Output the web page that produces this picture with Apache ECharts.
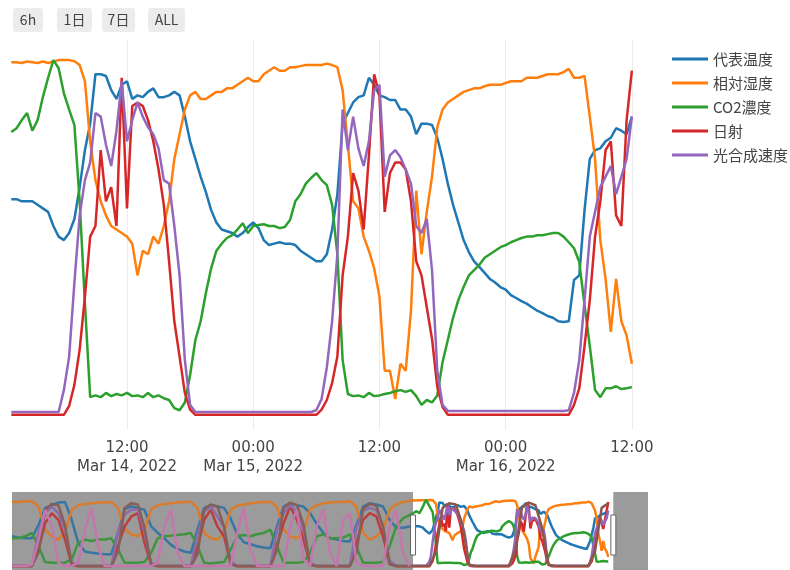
<!DOCTYPE html>
<html><head><meta charset="utf-8">
<script src="https://cdn.jsdelivr.net/npm/echarts@6/dist/echarts.min.js"></script>
<style>html,body{margin:0;padding:0;background:#fff}#c{width:790px;height:570px}</style>
</head><body><div id="c"></div>
<script>
// ---------- DATA ----------
const seriesNames = ['代表温度', '相対湿度', 'CO2濃度', '日射', '光合成速度'];
const buttonLabels = ['6h', '1日', '7日', 'ALL'];

// main (visible) data: 30-minute samples from 2022-03-14 01:00 to 2022-03-16 12:00
const mainStart = '2022-03-14 01:00';
const mainStepMin = 30;
const temp = [
  60.6,60.6,60,60,60,59,58,57,53,50,49,51,
  55,64,74.5,82,96,96,95.5,91.5,89,93,94,89,
  90,89.5,91,92,89.5,89.5,90,91,90,84,77,72,
  67,62.6,57.5,54,52,51.5,51,50,51,52.7,54,52.4,
  49,47.6,48,48.4,48,48,47.6,46,45,44,43,43,
  45,52,62,82,85,88,89.5,90,95,93,90,89.5,
  88.7,88.7,86,86,84,79,82,82,81.6,78,72,65,
  59,54,49,45.6,43,41.4,39.7,38,37,35.7,35,33.4,
  32.6,31.7,31,30,29,28.3,27.5,27,26,25.8,26,37.7,
  39,57.5,72,74.5,75,77,78,80.7,80,79,84
];
const humidity = [
  99.4,99.4,99.2,99.6,99.4,99.2,99.6,99.2,99.6,100,100,100,
  99.7,98.6,94,77,66,60,56,53,52,51,50,48,
  39,46,45,50,48,53,60,72,79,86,90,91,
  89,89,90,91,91,92,92,93,94,95,94,94,
  96,97,98,97,97,98,98,98.3,98.6,98.6,98.6,98.6,
  99,98.6,98,91.5,76,60,58,50,46,41,33,12,
  12,4,14,12,29,63,45,57,67,81,86,88,
  89,90,91,91.5,92,92,92.6,93,93,93,93.5,94,
  94,94,95,95,95,95.5,96,96,96,96.6,97.5,95,
  95,95.5,84,72,49,38,23,38,26,22,14
];
const co2 = [
  79.6,80.7,83,85,80,83,89.5,95,100,97.7,90.6,86,
  81.6,60,31,4.5,5,4.5,5.7,4.8,5.4,5,5.7,4.8,
  5,4.5,5.7,4.5,5,4.2,3.7,1.4,0.8,3,10.8,20.7,
  26,34,41,46,48,49.6,50.4,52,53.8,51,53,53.3,
  53.5,53,53,52.4,52.7,54.7,60,62,65,66.6,68,66,
  64.6,59,45,15,5.4,4.8,5,4.5,5.7,4.8,5,5.4,
  5.7,6.2,6.5,6,6.5,4.8,2.3,3.7,3,5,14.4,20.7,
  27,32,35.7,39,40.5,42,44,45,46,47,47.6,48.4,
  49,49.6,50,50,50.4,50.4,50.7,51,51,50,48.4,46.7,
  42.8,30.6,19,6.5,4.5,7,7,7.6,6.8,7,7.4
];
const solar = [
  -0.5,-0.5,-0.5,-0.5,-0.5,-0.5,-0.5,-0.5,-0.5,-0.5,-0.5,2,
  8,18,33,50,53,74.5,60,64,53,95,58,87,
  88,87,83,77,69,59,43,26,16,5.7,1,-0.5,
  -0.5,-0.5,-0.5,-0.5,-0.5,-0.5,-0.5,-0.5,-0.5,-0.5,-0.5,-0.5,
  -0.5,-0.5,-0.5,-0.5,-0.5,-0.5,-0.5,-0.5,-0.5,-0.5,-0.5,1,
  3.7,8.5,16,39,50,68,63,52,73,96,90,57,
  68,71,71,69,60,43,39,30,21,7.4,1.7,-0.5,
  -0.5,-0.5,-0.5,-0.5,-0.5,-0.5,-0.5,-0.5,-0.5,-0.5,-0.5,-0.5,
  -0.5,-0.5,-0.5,-0.5,-0.5,-0.5,-0.5,-0.5,-0.5,-0.5,-0.5,2.3,
  7,19,32,50,60,74.5,77,56,53,83,97
];
const photo = [
  0.3,0.3,0.3,0.3,0.3,0.3,0.3,0.3,0.3,0.3,6.5,16,
  37,56,66,71,85,84,76,70,80,94,77,83,
  88,84,81,79,75,66,65,53,39,15,2.3,0.3,
  0.3,0.3,0.3,0.3,0.3,0.3,0.3,0.3,0.3,0.3,0.3,0.3,
  0.3,0.3,0.3,0.3,0.3,0.3,0.3,0.3,0.3,0.3,0.8,4,
  13,26,45,86,74.5,84,75,70,77,91.5,93,67,
  73,74.5,72.5,69,65,53,51,55,40.5,12,2.3,0.6,
  0.6,0.6,0.6,0.6,0.6,0.6,0.6,0.6,0.6,0.6,0.6,0.6,
  0.6,0.6,0.6,0.6,0.6,0.6,0.6,0.6,0.6,0.6,0.8,5.7,
  15,32,50,57,64,67,70,62,67,72,84
];

// earlier data shown only in the range slider: 2-hour samples from 2022-03-09 00:00 to 2022-03-13 22:00
const earlyStart = '2022-03-09 00:00';
const earlyStepMin = 120;
const earlyTemp = [
  45,43,42,42,62,88,92,96,97,70,35,22,
  20,19,18,18,50,86,90,88,85,60,50,42,
  32,26,22,20,55,88,92,90,88,72,48,36,
  33,30,28,27,60,90,95,92,90,80,64,50,
  42,40,38,37,62,90,95,93,90,70,58,58
];
const earlyHumidity = [
  97,97,98,98,90,55,45,40,52,85,92,94,
  95,96,96,97,88,56,48,45,55,86,92,94,
  95,96,97,97,88,50,42,40,50,85,91,93,
  95,96,97,97,90,55,45,42,52,86,92,95,
  96,97,97,98,90,50,40,45,55,85,93,97
];
const earlyCo2 = [
  42,42,45,50,30,6,5,5,5,10,35,40,
  38,40,40,42,25,5,5,5,6,20,42,45,
  46,47,48,50,30,5,4,5,6,25,45,47,
  45,48,50,55,30,5,5,5,6,20,45,48,
  42,42,43,48,28,5,5,5,6,30,60,72
];
const earlySolar = [
  -0.5,-0.5,-0.5,-0.5,25,65,80,70,40,2,-0.5,-0.5,
  -0.5,-0.5,-0.5,-0.5,30,60,75,80,35,2,-0.5,-0.5,
  -0.5,-0.5,-0.5,-0.5,28,70,85,60,45,3,-0.5,-0.5,
  -0.5,-0.5,-0.5,-0.5,30,65,90,70,40,2,-0.5,-0.5,
  -0.5,-0.5,-0.5,-0.5,35,70,80,75,45,3,-0.5,-0.5
];
const earlyPhoto = [
  0.3,0.3,0.3,0.3,50,80,90,80,55,6,0.3,0.3,
  0.3,0.3,0.3,0.3,52,78,85,86,50,5,0.3,0.3,
  0.3,0.3,0.3,0.3,48,82,90,75,58,7,0.3,0.3,
  0.3,0.3,0.3,0.3,55,80,92,82,55,5,0.3,0.3,
  0.3,0.3,0.3,0.3,58,84,88,85,60,8,0.3,0.3
];
// two hidden traces that only appear in the range slider (2-hour samples from 2022-03-09 00:00)
const hiddenA = [
  0,0,0,0,20,85,94,92,62,3,0,0,
  0,0,0,0,22,88,95,93,58,2,0,0,
  0,0,0,0,18,86,93,90,60,3,0,0,
  0,0,0,0,24,88,96,92,63,2,0,0,
  0,0,0,0,20,87,94,91,60,3,0,0,
  0,0,0,0,22,88,95,93,62,2,0,0,
  0,0,0,0,25,90,96,92,58,2,0,0,
  0,0,0,0,22,88,95
];
const hiddenB = [
  0,0,0,2,40,85,60,5,0,0,5,55,
  88,30,0,0,0,0,0,0,0,0,5,60,
  85,20,0,0,0,0,0,0,0,0,50,88,
  25,0,0,0,0,0,60,85,10,0,60,85,
  20,0,70,80,5,0,0,0,0,60,85,20,
  0
];

const tickTimes = ['2022-03-14 12:00', '2022-03-15 00:00', '2022-03-15 12:00', '2022-03-16 00:00', '2022-03-16 12:00'];
const tickLabels = ['12:00\nMar 14, 2022', '00:00\nMar 15, 2022', '12:00', '00:00\nMar 16, 2022', '12:00'];

const viewMin = '2022-03-14 01:04';
const viewMax = '2022-03-16 13:32';
const sliderMin = '2022-03-09 00:00';
const sliderMax = '2022-03-17 00:00';

// ---------- BUILD ----------
const colors = ['#1f77b4', '#ff7f0e', '#2ca02c', '#d62728', '#9467bd', '#8c564b', '#e377c2'];
function ts(s) {
  const [d, t] = s.split(' ');
  const [Y, M, D] = d.split('-').map(Number);
  const [h, m] = t.split(':').map(Number);
  return Date.UTC(Y, M - 1, D, h, m);
}
function pairs(arr, start, stepMin) {
  const t0 = ts(start);
  return arr.map((v, i) => [t0 + i * stepMin * 60000, v]);
}
const mainArrays = [temp, humidity, co2, solar, photo];
const earlyArrays = [earlyTemp, earlyHumidity, earlyCo2, earlySolar, earlyPhoto];
const tickVals = tickTimes.map(ts);
const font = '"DejaVu Sans", Verdana, sans-serif';
const cjk = '"Noto Sans CJK JP", "Noto Sans", sans-serif';

const series = [];
mainArrays.forEach((arr, k) => {
  series.push({
    type: 'line', name: seriesNames[k], xAxisIndex: 0, yAxisIndex: 0,
    data: pairs(arr, mainStart, mainStepMin), symbol: 'none', showSymbol: false,
    lineStyle: { width: 2.5, color: colors[k] }, itemStyle: { color: colors[k] },
    clip: true, silent: true
  });
});
mainArrays.forEach((arr, k) => {
  series.push({
    type: 'line', name: 'slider' + k, xAxisIndex: 1, yAxisIndex: 1,
    data: pairs(earlyArrays[k], earlyStart, earlyStepMin).concat(pairs(arr, mainStart, mainStepMin)),
    symbol: 'none', showSymbol: false, lineStyle: { width: 2.5, color: colors[k] },
    itemStyle: { color: colors[k] }, silent: true
  });
});
[hiddenA, hiddenB].forEach((arr, j) => {
  series.push({
    type: 'line', name: 'sliderH' + j, xAxisIndex: 1, yAxisIndex: 1,
    data: pairs(arr, earlyStart, earlyStepMin), symbol: 'none', showSymbol: false,
    lineStyle: { width: 2.5, color: colors[5 + j] }, itemStyle: { color: colors[5 + j] }, silent: true
  });
});

const option = {
  animation: false,
  backgroundColor: '#fff',
  grid: [
    { left: 12, width: 636, top: 40, height: 390 },
    { left: 12, width: 636, top: 492, height: 78 }
  ],
  xAxis: [
    {
      type: 'value', gridIndex: 0, min: ts(viewMin), max: ts(viewMax),
      axisLine: { show: false },
      axisTick: { show: false, customValues: tickVals },
      splitLine: { show: true, lineStyle: { color: '#ebebeb', width: 1 } },
      axisLabel: {
        customValues: tickVals,
        formatter: function (v) {
          const i = tickVals.indexOf(v);
          return i >= 0 ? tickLabels[i] : '';
        },
        fontSize: 15, color: '#444', fontFamily: font, lineHeight: 19, margin: 9,
        showMinLabel: true, showMaxLabel: true
      }
    },
    {
      type: 'value', gridIndex: 1, min: ts(sliderMin), max: ts(sliderMax), show: false,
      splitLine: { show: false }
    }
  ],
  yAxis: [
    { type: 'value', gridIndex: 0, min: -4.8, max: 105.7, show: false, splitLine: { show: false } },
    { type: 'value', gridIndex: 1, min: -6, max: 112, show: false, splitLine: { show: false } }
  ],
  legend: {
    data: seriesNames, orient: 'vertical', left: 667, top: 46,
    itemWidth: 36, itemHeight: 3, itemGap: 8, icon: 'rect', selectedMode: false,
    textStyle: { fontSize: 15, color: '#444', fontFamily: cjk, lineHeight: 16 }
  },
  series: series
};

const chart = echarts.init(document.getElementById('c'), null, { renderer: 'canvas' });
chart.setOption(option);

// range-slider mask, handles and range-selector buttons
const px = v => chart.convertToPixel({ xAxisIndex: 1 }, v);
const py = v => chart.convertToPixel({ yAxisIndex: 1 }, v);
const sx0 = px(ts(sliderMin)), sx1 = px(ts(sliderMax));
const wx0 = px(ts(viewMin)), wx1 = px(ts(viewMax));
const syTop = py(112), syBot = py(-6);
const sh = syBot - syTop;
const g = [];
g.push({ type: 'rect', z: 0, shape: { x: sx0, y: syTop, width: wx0 - sx0, height: sh }, style: { fill: '#a9a9a9' }, silent: true });
g.push({ type: 'rect', z: 0, shape: { x: wx1, y: syTop, width: sx1 - wx1, height: sh }, style: { fill: '#a9a9a9' }, silent: true });
g.push({ type: 'rect', z: 50, shape: { x: sx0, y: syTop, width: wx0 - sx0, height: sh }, style: { fill: 'rgba(119,119,119,0.28)' }, silent: true });
g.push({ type: 'rect', z: 50, shape: { x: wx1, y: syTop, width: sx1 - wx1, height: sh }, style: { fill: 'rgba(119,119,119,0.28)' }, silent: true });
[wx0, wx1].forEach(x => {
  g.push({ type: 'rect', z: 60, shape: { x: x - 2.5, y: syTop + 23, width: 5, height: 40 },
    style: { fill: '#fff', stroke: '#666', lineWidth: 1 }, silent: true });
});
const btnX = [13, 57, 102, 148], btnW = [30, 35, 33, 37];
buttonLabels.forEach((lab, i) => {
  g.push({ type: 'rect', z: 60, shape: { x: btnX[i], y: 8, width: btnW[i], height: 24, r: 3 }, style: { fill: '#ececec' }, silent: true });
  g.push({ type: 'text', z: 61, x: btnX[i] + btnW[i] / 2, y: 20,
    style: { text: lab, fill: '#444', font: '14px ' + cjk, align: 'center', verticalAlign: 'middle' }, silent: true });
});
chart.setOption({ graphic: g });
</script>
</body></html>
